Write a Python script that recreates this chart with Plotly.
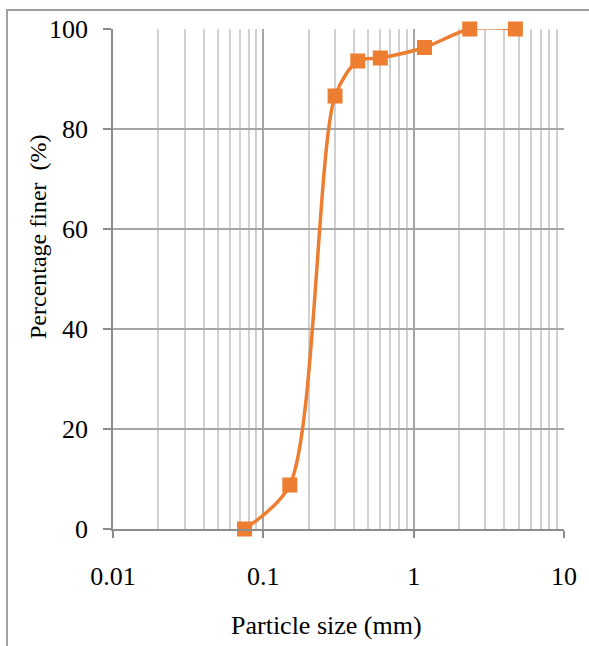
import plotly.graph_objects as go

particle_size_mm = [0.075, 0.15, 0.3, 0.425, 0.6, 1.18, 2.36, 4.75]
percent_finer = [0.0, 8.8, 86.6, 93.6, 94.2, 96.3, 100.0, 100.0]
x_tick_vals = [0.01, 0.1, 1, 10]
x_tick_text = ["0.01", "0.1", "1", "10"]
y_tick_vals = [0, 20, 40, 60, 80, 100]

ORANGE = "#ED7D31"
FONT = "Liberation Serif"
W, H = 589, 646
L, R, T, B = 113, 25, 29, 117
pw, ph = W - L - R, H - T - B

def px(xp):
    return (xp - L) / pw

def py(yp):
    return (H - B - yp) / ph

fig = go.Figure()
fig.add_trace(go.Scatter(
    x=particle_size_mm, y=percent_finer,
    mode="lines+markers",
    line=dict(color=ORANGE, width=3.5, shape="spline", smoothing=0.8),
    marker=dict(symbol="square", size=15, color=ORANGE),
    cliponaxis=False,
    showlegend=False,
))

fig.update_layout(
    width=W, height=H,
    margin=dict(l=L, r=R, t=T, b=B),
    paper_bgcolor="white", plot_bgcolor="white",
    font=dict(family=FONT, size=26, color="black"),
    xaxis=dict(
        type="log", range=[-2, 1],
        tickvals=x_tick_vals, ticktext=x_tick_text,
        showgrid=True, gridcolor="#a6a6a6", gridwidth=1.5,
        minor=dict(dtick="D1", showgrid=True, gridcolor="#d0d0d0", gridwidth=1.5, ticks=""),
        ticks="outside", ticklen=7, tickcolor="#8c8c8c", tickwidth=1.5,
        showline=True, linecolor="#8c8c8c", linewidth=1.5,
        ticklabelstandoff=16,
        zeroline=False,
        tickfont=dict(family=FONT, size=26),
    ),
    yaxis=dict(
        range=[0, 100], tickvals=y_tick_vals,
        showgrid=True, gridcolor="#a6a6a6", gridwidth=1.5,
        ticks="outside", ticklen=8, tickcolor="#8c8c8c", tickwidth=1.5,
        showline=True, linecolor="#8c8c8c", linewidth=1.5,
        ticklabelstandoff=10,
        zeroline=False,
        tickfont=dict(family=FONT, size=26),
    ),
    annotations=[
        dict(text="Particle size (mm)", xref="paper", yref="paper",
             x=px(326.5), y=py(625), xanchor="center", yanchor="middle",
             showarrow=False, font=dict(family=FONT, size=26)),
        dict(text="Percentage finer\u00a0\u00a0(%)", xref="paper", yref="paper",
             x=px(38), y=py(237), xanchor="center", yanchor="middle", textangle=-90,
             showarrow=False, font=dict(family=FONT, size=24)),
    ],
    shapes=[
        dict(type="path", xref="paper", yref="paper",
             path=f"M {px(7)},{py(700)} L {px(7)},{py(10)} L {px(600)},{py(10)}",
             line=dict(color="#a0a0a0", width=2), layer="below"),
    ],
)

fig.write_html(
    "out.html",
    config={"displayModeBar": False},
    post_script="document.body.style.margin='0';document.body.style.overflow='hidden';",
)
